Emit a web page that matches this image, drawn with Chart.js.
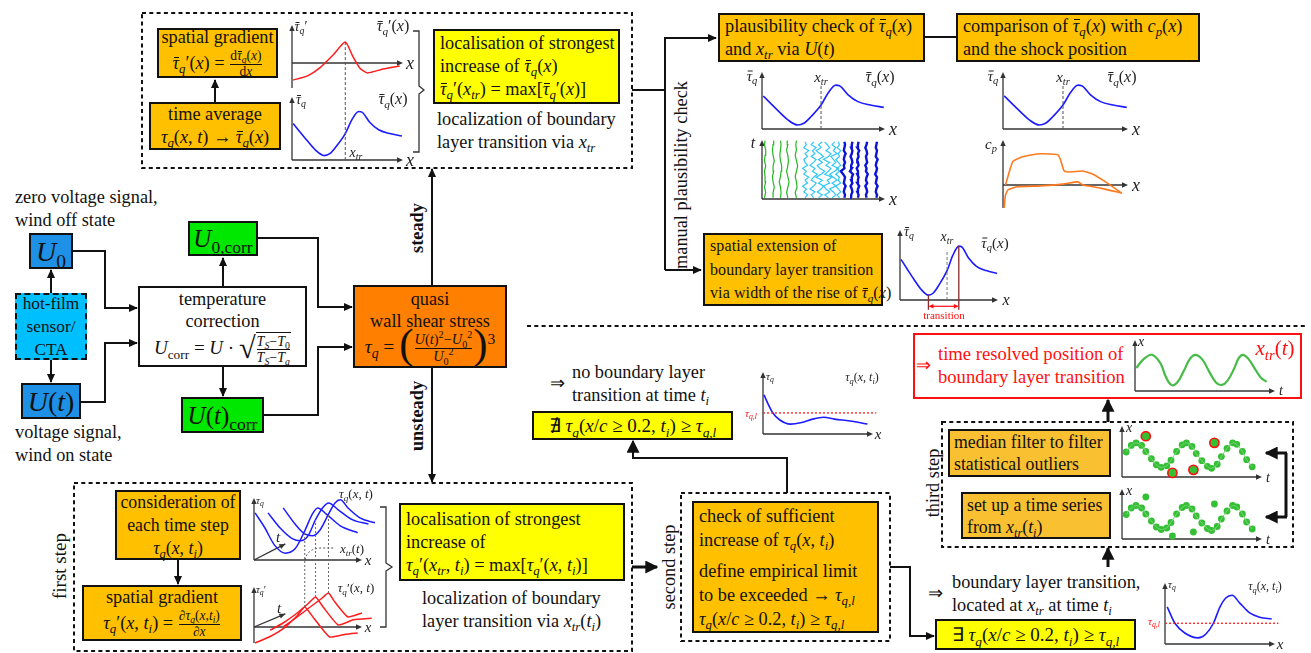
<!DOCTYPE html>
<html><head><meta charset="utf-8"><title>Wall shear stress evaluation</title>
<script src="https://cdn.jsdelivr.net/npm/chart.js@4.4.1/dist/chart.umd.min.js"></script>
<style>
html,body{margin:0;padding:0;background:#fff;}
#page{position:relative;width:1311px;height:653px;overflow:hidden;font-family:"Liberation Serif","Times New Roman",serif;font-size:18.3px;color:#111;}
.b{position:absolute;box-sizing:border-box;border:2px solid #111;display:flex;flex-direction:column;justify-content:center;line-height:23px;white-space:nowrap;}
.b.c{align-items:center;text-align:center;}
.b.l{align-items:flex-start;text-align:left;padding-left:5px;}
.t{position:absolute;white-space:nowrap;line-height:23px;}
i{font-style:italic;}
.u{font-style:normal;}
sub{font-size:70%;vertical-align:-0.35em;line-height:0;}
sup{font-size:70%;vertical-align:0.55em;line-height:0;}
.bar{position:relative;display:inline-block;line-height:1;}
.bar::before{content:'';position:absolute;left:20%;right:-6%;top:0.16em;border-top:1.2px solid currentColor;}
.frac{display:inline-flex;flex-direction:column;vertical-align:middle;text-align:center;font-size:0.74em;line-height:1.1;margin:0 1px;}
.frac>span+span{border-top:1px solid #111;}
.bp{font-size:2.2em;line-height:0;vertical-align:-0.12em;font-weight:300;}
.sq{font-size:1.6em;line-height:0;vertical-align:-0.12em;}
.rad{border-top:1px solid #111;display:inline-block;line-height:1;padding-top:1px;}
canvas{position:absolute;}
svg{position:absolute;left:0;top:0;}
.rot{position:absolute;transform:translate(-50%,-50%) rotate(-90deg);white-space:nowrap;}
.lab{position:absolute;white-space:nowrap;line-height:1;color:#222;transform:translate(-50%,-50%);}
</style></head>
<body><div id="page">
<svg width="1311" height="653">
<defs>
<marker id="ah" viewBox="0 0 10 10" refX="9" refY="5" markerWidth="9" markerHeight="9" markerUnits="userSpaceOnUse" orient="auto"><path d="M0,0.5 L10,5 L0,9.5 z" fill="#111"/></marker>
<marker id="ahB" viewBox="0 0 10 10" refX="9" refY="5" markerWidth="13" markerHeight="13" markerUnits="userSpaceOnUse" orient="auto"><path d="M0,0 L10,5 L0,10 z" fill="#111"/></marker>
</defs>
<g fill="none" stroke="#111" stroke-width="2" stroke-dasharray="4 3.3">
<rect x="142" y="13" width="490" height="155"/>
<rect x="74" y="483" width="558" height="168"/>
<rect x="681" y="493" width="209" height="148"/>
<rect x="942" y="422" width="351" height="125"/>
<line x1="527" y1="326" x2="1308" y2="326"/>
</g>
<g fill="none" stroke="#111" stroke-width="2">
<path d="M215,102 V80" marker-end="url(#ah)"/>
<path d="M632,90 H665"/>
<path d="M665,270 V38 H716" marker-end="url(#ah)"/>
<path d="M665,270 H701" marker-end="url(#ah)"/>
<path d="M925,37 H956"/>
<path d="M73,251 H105 V308 H137" marker-end="url(#ah)"/>
<path d="M81,402 H105 V343 H137" marker-end="url(#ah)"/>
<path d="M51,293 V270" marker-end="url(#ah)"/>
<path d="M51,360 V382" marker-end="url(#ah)"/>
<path d="M223,286 V258" marker-end="url(#ah)"/>
<path d="M223,367 V396" marker-end="url(#ah)"/>
<path d="M258,238 H318 V307 H352" marker-end="url(#ah)"/>
<path d="M264,415 H318 V347 H352" marker-end="url(#ah)"/>
<path d="M432,285 V169" marker-end="url(#ah)"/>
<path d="M432,368 V482" marker-end="url(#ah)"/>
<path d="M178,560 V584" marker-end="url(#ah)"/>
<path d="M632,567 H657" stroke-width="3" marker-end="url(#ahB)"/>
<path d="M787,493 V458 H633 V441" marker-end="url(#ahB)"/>
<path d="M890,567 H910 V636 H934" marker-end="url(#ah)"/>
<path d="M1108,567 V548" stroke-width="3" marker-end="url(#ahB)"/>
<path d="M1108,422 V400" stroke-width="3" marker-end="url(#ahB)"/>
<path d="M1286,453 V517" stroke-width="3"/>
<path d="M1287,453 H1266" stroke-width="3" marker-end="url(#ahB)"/>
<path d="M1287,517 H1266" stroke-width="3" marker-end="url(#ahB)"/>
</g>
<g fill="none" stroke="#333" stroke-width="1.3">
<path d="M413,31 H419 V86 L424,90 L419,94 V152 H413"/>
<path d="M380,507 H386 V563 L392,567 L386,571 V627 H380"/>
</g>
<path d="M305,560 Q307,549 320,548 H334" fill="none" stroke="#555" stroke-width="1" stroke-dasharray="2 2"/>
</svg>
</div>
<script>
// ---- curve values (x as fraction of the axis length, y as fraction of the axis height) ----
const xTr = 0.48;
const chordX   = [0.01,0.07,0.14,0.21,0.29,0.34,0.40,0.48,0.54,0.60,0.63,0.70,0.78,0.88,0.99];
const tauMean  = [0.58,0.45,0.30,0.16,0.07,0.10,0.22,0.42,0.64,0.77,0.76,0.60,0.48,0.42,0.38];
const gradX    = [0.01,0.14,0.25,0.37,0.48,0.55,0.61,0.68,0.82,0.97];
const gradTau  = [-0.45,-0.34,-0.13,0.21,0.55,0.16,-0.13,-0.26,-0.16,-0.08];

// hot-film traces in the t-x diagram: time samples and x position of every trace
const tShort = [0.02,0.11,0.2,0.29,0.38,0.47,0.56,0.65,0.74,0.83,0.92,0.99];
const tLong  = [0.02,0.07,0.12,0.17,0.22,0.27,0.32,0.37,0.42,0.47,0.52,0.57,0.62,0.67,0.72,0.77,0.82,0.87,0.92,0.97];
const laminarTraces = [
  [0.02,0.03,0.02,0.03,0.025,0.02,0.03,0.02,0.025,0.03,0.02,0.025],
  [0.09,0.09,0.10,0.09,0.085,0.095,0.09,0.10,0.09,0.085,0.09,0.095],
  [0.15,0.155,0.15,0.14,0.15,0.155,0.16,0.15,0.145,0.15,0.155,0.15],
  [0.21,0.20,0.21,0.22,0.21,0.20,0.21,0.215,0.21,0.20,0.21,0.205],
  [0.28,0.27,0.285,0.28,0.27,0.28,0.29,0.28,0.27,0.28,0.275,0.28]];
const transitionalTraces = [
  [0.35,0.37,0.34,0.36,0.33,0.37,0.35,0.38,0.34,0.36,0.33,0.37,0.35,0.34,0.37,0.35,0.38,0.34,0.36,0.35],
  [0.42,0.40,0.43,0.39,0.42,0.44,0.40,0.42,0.45,0.41,0.43,0.39,0.42,0.44,0.40,0.43,0.41,0.44,0.40,0.42],
  [0.46,0.49,0.45,0.48,0.50,0.46,0.49,0.44,0.48,0.51,0.47,0.45,0.49,0.46,0.50,0.47,0.44,0.48,0.46,0.49],
  [0.54,0.51,0.55,0.52,0.50,0.55,0.53,0.57,0.51,0.54,0.56,0.52,0.55,0.50,0.54,0.56,0.52,0.55,0.53,0.51],
  [0.57,0.60,0.58,0.55,0.60,0.57,0.61,0.58,0.55,0.59,0.62,0.57,0.60,0.58,0.56,0.61,0.58,0.60,0.57,0.59],
  [0.63,0.61,0.64,0.62,0.60,0.64,0.62,0.63,0.60,0.63,0.61,0.64,0.62,0.60,0.63,0.62,0.64,0.61,0.63,0.62]];
const turbulentTraces = [
  [0.67,0.675,0.665,0.67,0.68,0.665,0.67,0.675,0.66,0.64,0.67,0.665,0.675,0.665,0.67,0.68,0.665,0.67,0.675,0.67],
  [0.73,0.725,0.735,0.73,0.72,0.735,0.725,0.73,0.74,0.715,0.73,0.725,0.735,0.73,0.72,0.73,0.735,0.725,0.73,0.735],
  [0.78,0.785,0.775,0.78,0.79,0.775,0.78,0.785,0.775,0.78,0.77,0.785,0.78,0.775,0.785,0.78,0.79,0.775,0.78,0.785],
  [0.85,0.845,0.855,0.85,0.84,0.855,0.845,0.85,0.86,0.845,0.85,0.84,0.855,0.85,0.845,0.855,0.85,0.84,0.85,0.855],
  [0.93,0.935,0.925,0.93,0.94,0.925,0.93,0.935,0.92,0.93,0.935,0.925,0.93,0.94,0.925,0.93,0.935,0.925,0.93,0.935]];

// pressure coefficient, upper and lower side
const cpUpperX = [0.02,0.05,0.08,0.15,0.27,0.38,0.44,0.46,0.49,0.54,0.64,0.72,0.82,0.95];
const cpUpper  = [0,0.29,0.53,0.62,0.69,0.69,0.67,0.56,0.31,0.29,0.31,0.24,0.07,-0.18];
const cpLowerX = [0.01,0.02,0.04,0.11,0.30,0.48,0.60,0.64,0.78,0.95];
const cpLower  = [-0.51,-0.22,-0.11,-0.04,-0.02,0.02,0.07,0,-0.07,-0.18];

// instantaneous wall shear stress at one time step
const tauLimit = 0.34;
const noTrX = [0.01,0.05,0.09,0.15,0.25,0.34,0.45,0.55,0.65,0.79,0.95];
const noTrTau = [0.63,0.47,0.34,0.23,0.16,0.18,0.24,0.27,0.24,0.21,0.16];
const trX = [0.02,0.09,0.18,0.30,0.37,0.44,0.50,0.55,0.61,0.68,0.77,0.86,0.97];
const trTau = [0.61,0.34,0.18,0.10,0.16,0.34,0.61,0.75,0.80,0.67,0.51,0.44,0.41];

// transition position over time
const timeX = [0.01,0.06,0.12,0.18,0.22,0.26,0.30,0.35,0.39,0.43,0.48,0.53,0.58,0.62,0.66,0.71,0.74,0.77,0.81,0.86,0.90,0.94];
const xTrOfT = [0.45,0.62,0.71,0.55,0.28,0.12,0.16,0.40,0.62,0.71,0.62,0.38,0.16,0.12,0.20,0.45,0.64,0.71,0.63,0.42,0.26,0.18];
const sampleT = [0.03,0.066,0.10,0.14,0.17,0.21,0.245,0.28,0.32,0.35,0.39,0.43,0.46,0.50,0.53,0.57,0.61,0.64,0.68,0.71,0.75,0.79,0.82,0.86,0.89,0.93];
const sampleX = [0.49,0.62,0.67,0.62,0.50,0.36,0.24,0.19,0.22,0.33,0.50,0.63,0.67,0.60,0.46,0.32,0.21,0.17,0.25,0.40,0.56,0.67,0.64,0.50,0.34,0.20];
const outlierT = [0.17,0.36,0.51,0.66];
const outlierX = [0.80,0.08,0.14,0.67];
const outlierXRaw = [0.84,0.06,0.14,0.70];

// tau_q(x,t) for three time steps and their spatial gradients
const stepX = [
  [0.01,0.10,0.19,0.29,0.38,0.47,0.54,0.59,0.67,0.80,0.96],
  [0.13,0.24,0.35,0.43,0.50,0.57,0.64,0.69,0.78,0.91,1.06],
  [0.27,0.38,0.47,0.54,0.61,0.69,0.75,0.80,0.87,0.98,1.12]];
const stepTau = [
  [0.76,0.52,0.24,0.11,0.18,0.47,0.74,0.84,0.74,0.55,0.44],
  [0.76,0.52,0.35,0.31,0.39,0.65,0.85,0.92,0.81,0.65,0.58],
  [0.84,0.58,0.42,0.39,0.48,0.74,0.92,0.97,0.84,0.68,0.60]];
const stepGradX = [
  [0.01,0.14,0.28,0.40,0.47,0.56,0.70,0.85,0.96],
  [0.15,0.27,0.40,0.50,0.57,0.64,0.78,0.92,1.09],
  [0.27,0.40,0.52,0.62,0.69,0.75,0.87,1.00,1.09]];
const stepGrad = [
  [-0.40,-0.25,-0.02,0.28,0.50,0.20,-0.25,-0.18,-0.15],
  [-0.08,0.10,0.35,0.58,0.75,0.50,0.05,0.18,0.22],
  [0.00,0.25,0.50,0.70,0.85,0.62,0.25,0.35,0.38]];
const stepXtr = [0.47,0.57,0.69];
const stepXtrTop = [2.40,2.68,2.83];

// ---------------------------------------------------------------
const P = document.getElementById('page');
function box(x1,y1,x2,y2,bg,html,cls,extra){
  const d=document.createElement('div');
  d.className='b '+(cls||'c');
  Object.assign(d.style,{left:x1+'px',top:y1+'px',width:(x2-x1)+'px',height:(y2-y1)+'px',background:bg},extra||{});
  d.innerHTML='<div>'+html+'</div>';
  P.appendChild(d); return d;
}
function txt(x,y,html,extra){
  const d=document.createElement('div'); d.className='t';
  Object.assign(d.style,{left:x+'px',top:y+'px'},extra||{});
  d.innerHTML=html; P.appendChild(d); return d;
}
function rot(cx,cy,html,extra){
  const d=document.createElement('div'); d.className='rot';
  Object.assign(d.style,{left:cx+'px',top:cy+'px'},extra||{});
  d.innerHTML=html; P.appendChild(d); return d;
}
function lab(cx,cy,html,size,color){
  const d=document.createElement('div'); d.className='lab';
  Object.assign(d.style,{left:cx+'px',top:cy+'px',fontSize:size+'px'});
  if(color) d.style.color=color;
  d.innerHTML=html; P.appendChild(d); return d;
}
const TB='<i><span class="bar">τ</span><sub>q</sub></i>';
const T='<i>τ<sub>q</sub></i>';

// ---- process boxes ----
box(157,28,278,78,'#FFC000','spatial gradient<br>'+TB+'′(<i>x</i>) = <span class="frac"><span>d'+TB+'(<i>x</i>)</span><span>d<i>x</i></span></span>');
box(149,102,281,150,'#FFC000','time average<br>'+T+'(<i>x</i>, <i>t</i>) → '+TB+'(<i>x</i>)');
box(433,29,620,104,'#FFFF00','localisation of strongest<br>increase of '+TB+'(<i>x</i>)<br>'+TB+'′(<i>x<sub>tr</sub></i>) = max['+TB+'′(<i>x</i>)]','l');
txt(437,108,'localization of boundary<br>layer transition via <i>x<sub>tr</sub></i>');
box(718,13,925,62,'#FFC000','plausibility check of '+TB+'(<i>x</i>)<br>and <i>x<sub>tr</sub></i> via <i>U</i>(<i>t</i>)','l');
box(956,13,1200,62,'#FFC000','comparison of '+TB+'(<i>x</i>) with <i>c<sub>p</sub></i>(<i>x</i>)<br>and the shock position','l');
box(703,233,883,306,'#FFC000','spatial extension of<br>boundary layer transition<br>via width of the rise of '+TB+'(<i>x</i>)','l',{fontSize:'16px',lineHeight:'23.5px',letterSpacing:'0.1px'});

txt(15,186,'zero voltage signal,<br>wind off state');
txt(15,421,'voltage signal,<br>wind on state');
box(29,233,73,269,'#1E90E6','<i>U</i><sub class="u">0</sub>','c',{fontSize:'28px'});
box(15,293,87,360,'#00BFFF','hot-film<br>sensor/<br>CTA','c',{borderStyle:'dashed',fontSize:'17.3px'});
box(21,383,81,419,'#1E90E6','<i>U</i>(<i>t</i>)','c',{fontSize:'28px'});
box(138,286,307,367,'#FFFFFF','temperature<br>correction<br><span style="font-size:19px"><i>U</i><sub class="u">corr</sub> = <i>U</i> · <span class="sq">√</span><span class="rad"><span class="frac"><span><i>T<sub>S</sub></i>−<i>T</i><sub class="u">0</sub></span><span><i>T<sub>S</sub></i>−<i>T<sub>a</sub></i></span></span></span></span>','c',{lineHeight:'22px'});
box(188,221,258,256,'#00E800','<i>U</i><sub class="u">0,corr</sub>','c',{fontSize:'25px'});
box(181,397,264,433,'#00E800','<i>U</i>(<i>t</i>)<sub class="u">corr</sub>','c',{fontSize:'25px'});
box(353,285,507,368,'#FF7F00','quasi<br>wall shear stress<br><span style="font-size:19.5px">'+T+' = <span class="bp">(</span><span class="frac"><span><i>U</i>(<i>t</i>)<sup>2</sup>−<i>U</i><sub class="u">0</sub><sup>2</sup></span><span><i>U</i><sub class="u">0</sub><sup>2</sup></span></span><span class="bp">)</span><sup style="font-size:80%">3</sup></span>','c',{lineHeight:'22px'});

box(115,490,241,560,'#FFC000','consideration of<br>each time step<br>'+T+'(<i>x</i>, <i>t<sub>i</sub></i>)','c',{fontSize:'17.8px'});
box(82,585,242,641,'#FFC000','spatial gradient<br>'+T+'′(<i>x</i>, <i>t<sub>i</sub></i>) = <span class="frac"><span>∂'+T+'(<i>x</i>,<i>t<sub>i</sub></i>)</span><span>∂<i>x</i></span></span>');
box(399,503,625,581,'#FFFF00','localisation of strongest<br>increase of<br>'+T+'′(<i>x<sub>tr</sub></i>, <i>t<sub>i</sub></i>) = max['+T+'′(<i>x</i>, <i>t<sub>i</sub></i>)]','l');
txt(422,587,'localization of boundary<br>layer transition via <i>x<sub>tr</sub></i>(<i>t<sub>i</sub></i>)');

box(692,501,879,633,'#FFC000','check of sufficient<br>increase of '+T+'(<i>x</i>, <i>t<sub>i</sub></i>)<div style="height:7px"></div>define empirical limit<br>to be exceeded → <i>τ<sub>q,l</sub></i><br>'+T+'(<i>x</i>/<i>c</i> ≥ 0.2, <i>t<sub>i</sub></i>) ≥ <i>τ<sub>q,l</sub></i>','l',{lineHeight:'24px'});
box(532,411,733,440,'#FFFF00','∄ '+T+'(<i>x</i>/<i>c</i> ≥ 0.2, <i>t<sub>i</sub></i>) ≥ <i>τ<sub>q,l</sub></i>','c',{fontSize:'19px'});
box(935,619,1136,650,'#FFFF00','∃ '+T+'(<i>x</i>/<i>c</i> ≥ 0.2, <i>t<sub>i</sub></i>) ≥ <i>τ<sub>q,l</sub></i>','c',{fontSize:'19px'});
txt(550,372,'⇒');
txt(572,361,'no boundary layer<br>transition at time <i>t<sub>i</sub></i>');
txt(928,582,'⇒');
txt(952,571,'boundary layer transition,<br>located at <i>x<sub>tr</sub></i> at time <i>t<sub>i</sub></i>');

box(913,333,1302,399,'#FFFFFF','','c',{borderColor:'#FF1010'});
txt(916,354,'⇒',{color:'#FF1010'});
txt(938,342,'time resolved position of<br>boundary layer transition',{color:'#FF1010',fontSize:'18.6px'});
box(948,429,1111,477,'#F9C032','median filter to filter<br>statistical outliers','l',{lineHeight:'22px',paddingLeft:'4px',fontSize:'17.8px'});
box(961,492,1111,539,'#F9C032','set up a time series<br>from <i>x<sub>tr</sub></i>(<i>t<sub>i</sub></i>)','l',{lineHeight:'22px',paddingLeft:'4px',fontSize:'17.8px'});

rot(681,175,'manual plausibility check');
rot(417,228,'steady',{fontWeight:'bold'});
rot(417,416,'unsteady',{fontWeight:'bold'});
rot(60,566,'first step',{fontSize:'19px'});
rot(669,567,'second step');
rot(933,483,'third step');

// ---- small diagrams drawn with Chart.js ----
const axisPlugin = {
  id:'axes',
  beforeDatasetsDraw(chart,args,o){
    const ctx=chart.ctx, xs=chart.scales.x, ys=chart.scales.y;
    const X=v=>xs.getPixelForValue(v), Y=v=>ys.getPixelForValue(v);
    const head=(x,y,a,s,c)=>{ctx.save();ctx.fillStyle=c||'#333';ctx.translate(x,y);ctx.rotate(a);ctx.beginPath();ctx.moveTo(0,0);ctx.lineTo(-s,-s*0.45);ctx.lineTo(-s,s*0.45);ctx.closePath();ctx.fill();ctx.restore();};
    const seg=(x1,y1,x2,y2)=>{ctx.beginPath();ctx.moveTo(x1,y1);ctx.lineTo(x2,y2);ctx.stroke();};
    ctx.save(); ctx.strokeStyle='#333'; ctx.lineWidth=1.3;
    seg(X(0),Y(o.yFrom),X(0),Y(1)+4); head(X(0),Y(1),-Math.PI/2,6);
    seg(X(0),Y(0),X(1)-4,Y(0)); head(X(1),Y(0),0,6);
    if(o.t){ const ex=X(o.t[0]), ey=Y(o.t[1]); seg(X(0),Y(0),ex,ey); head(ex,ey,Math.atan2(ey-Y(0),ex-X(0)),6); }
    if(o.span){ const s=o.span; ctx.strokeStyle='#FF1010'; ctx.lineWidth=1.2;
      seg(X(s.x1)+3,Y(s.y),X(s.x2)-3,Y(s.y)); head(X(s.x2),Y(s.y),0,5,'#FF1010'); head(X(s.x1),Y(s.y),Math.PI,5,'#FF1010'); }
    ctx.restore();
  }
};
function pts(xs,ys){ return xs.map((x,i)=>({x:x,y:ys[i]})); }
function curve(xs,ys,color,w,extra){
  return Object.assign({data:pts(xs,ys),showLine:true,pointRadius:0,borderColor:color,borderWidth:w,cubicInterpolationMode:'monotone',clip:false},extra||{});
}
function straight(xs,ys,color,w,dash){
  return {data:pts(xs,ys),showLine:true,pointRadius:0,borderColor:color,borderWidth:w,borderDash:dash||[],tension:0,clip:false};
}
function plot(s){
  const pad=Object.assign({t:14,r:14,b:14,l:14},s.pad||{});
  const oy=(s.oy!==undefined)?s.oy:s.bottom;
  const k=oy-s.top;
  const ymin=-(s.bottom-oy)/k;
  const c=document.createElement('canvas');
  const W=s.len+pad.l+pad.r, H=(s.bottom-s.top)+pad.t+pad.b;
  c.width=W; c.height=H;
  c.style.left=(s.ox-pad.l)+'px'; c.style.top=(s.top-pad.t)+'px';
  c.style.width=W+'px'; c.style.height=H+'px';
  P.appendChild(c);
  new Chart(c,{type:'scatter',data:{datasets:s.sets},
    options:{animation:false,responsive:false,events:[],
      layout:{padding:{left:pad.l,right:pad.r,top:pad.t,bottom:pad.b}},
      scales:{x:{display:false,min:0,max:1},y:{display:false,min:ymin,max:1}},
      plugins:{legend:{display:false},tooltip:{enabled:false},axes:{yFrom:ymin,t:s.t,span:s.span}}},
    plugins:[axisPlugin]});
}
const BLUE='#1c1cff', RED='#ff1c1c', GREEN='#34c034', DASH='#555';

// time-averaged gradient and mean wall shear stress
plot({ox:292,top:25,len:111,oy:63,bottom:88,pad:{b:16},sets:[
  straight([xTr,xTr],[0.55,-0.89],DASH,1,[3,2]),
  curve(gradX,gradTau,RED,1.5,{cubicInterpolationMode:'default',tension:0.2})]});
plot({ox:292,top:97,len:111,bottom:160,sets:[
  straight([xTr,xTr],[0,1],DASH,1,[3,2]),
  curve(chordX,tauMean,BLUE,1.6)]});
// plausibility check
plot({ox:762,top:72,len:123,bottom:129,sets:[
  straight([xTr,xTr],[0,0.79],DASH,1,[3,2]),
  curve(chordX,tauMean,BLUE,1.6)]});
const traceSets=[];
laminarTraces.forEach(a=>traceSets.push(straight(a,tShort,'#22b822',1.2)));
transitionalTraces.forEach(a=>traceSets.push(straight(a,tLong,'#30c8f8',1.2)));
turbulentTraces.forEach(a=>traceSets.push(straight(a,tLong,'#0c14d8',2.4)));
plot({ox:762,top:140,len:123,bottom:199,sets:traceSets});
// comparison with pressure distribution
plot({ox:1003,top:72,len:125,bottom:129,sets:[
  straight([xTr,xTr],[0,0.79],DASH,1,[3,2]),
  curve(chordX,tauMean,BLUE,1.6)]});
plot({ox:1003,top:140,len:125,oy:185,bottom:208,sets:[
  curve(cpUpperX,cpUpper,'#ff7a1e',1.6,{cubicInterpolationMode:'default',tension:0.15}),
  curve(cpLowerX,cpLower,'#ff7a1e',1.6,{cubicInterpolationMode:'default',tension:0.15})]});
// spatial extension of the transition
plot({ox:900,top:230,len:98,bottom:300,pad:{b:18},span:{x1:0.29,x2:0.60,y:-0.09},sets:[
  straight([xTr,xTr],[0,0.71],'#777',1,[3,2]),
  straight([0.29,0.29],[-0.14,0.07],'#8c2a2a',1.3),
  straight([0.60,0.60],[-0.14,0.77],'#8c2a2a',1.3),
  curve(chordX,tauMean,BLUE,1.6)]});
// limit check at one time step
plot({ox:763,top:372,len:110,bottom:434,sets:[
  straight([0,1.03],[tauLimit,tauLimit],RED,1.3,[2,2]),
  curve(noTrX,noTrTau,BLUE,1.6)]});
plot({ox:1165,top:583,len:110,bottom:644,sets:[
  straight([0,1.03],[tauLimit,tauLimit],RED,1.3,[2,2]),
  curve(trX,trTau,BLUE,1.6)]});
// time series of the transition position
plot({ox:1135,top:340,len:140,bottom:391,sets:[
  curve(timeX,xTrOfT,'#46bc46',2.2,{cubicInterpolationMode:'default',tension:0.4})]});
function samples(rawOutliers){
  return [
    curve(sampleT,sampleX,'#7bd27b',1,{cubicInterpolationMode:'default',tension:0.3}),
    {data:pts(sampleT,sampleX),showLine:false,pointRadius:3.4,pointBackgroundColor:GREEN,pointBorderWidth:0,clip:false},
    {data:pts(outlierT,rawOutliers?outlierXRaw:outlierX),showLine:false,pointRadius:rawOutliers?3.4:4.6,pointBackgroundColor:GREEN,
     pointBorderColor:rawOutliers?GREEN:'#ff1010',pointBorderWidth:rawOutliers?0:1.6,clip:false}];
}
plot({ox:1122,top:426,len:140,bottom:477,sets:samples(false)});
plot({ox:1122,top:489,len:140,bottom:539,sets:samples(true)});
// first step: three time steps and their gradients
plot({ox:254,top:498,len:108,bottom:560,pad:{r:22},t:[0.29,0.26],sets:stepX.map((a,i)=>curve(a,stepTau[i],BLUE,1.5))});
plot({ox:254,top:587,len:108,oy:627,bottom:643,pad:{t:92,r:22},t:[0.29,0.33],sets:[
  ...stepXtr.map((x,i)=>straight([x,x],[stepGrad[i][4],stepXtrTop[i]],'#666',1,[2,2])),
  ...stepGradX.map((a,i)=>curve(a,stepGrad[i],RED,1.5,{cubicInterpolationMode:'default',tension:0.15}))]});

// ---- axis and curve labels ----
lab(301,27,TB+'′',14); lab(393,26,TB+'′(<i>x</i>)',16); lab(410,63,'<i>x</i>',18);
lab(301,100,TB,14); lab(393,99,TB+'(<i>x</i>)',16); lab(356,153,'<i>x<sub>tr</sub></i>',14); lab(410,160,'<i>x</i>',18);
lab(752,76,TB,15); lab(821,77,'<i>x<sub>tr</sub></i>',15); lab(880,77,TB+'(<i>x</i>)',16); lab(893,129,'<i>x</i>',18);
lab(753,143,'<i>t</i>',16); lab(893,199,'<i>x</i>',18);
lab(993,76,TB,15); lab(1063,77,'<i>x<sub>tr</sub></i>',15); lab(1122,77,TB+'(<i>x</i>)',16); lab(1136,129,'<i>x</i>',18);
lab(991,144,'<i>c<sub>p</sub></i>',15); lab(1136,185,'<i>x</i>',18);
lab(909,232,TB,14); lab(947,237,'<i>x<sub>tr</sub></i>',14); lab(995,243,TB+'(<i>x</i>)',15); lab(1006,300,'<i>x</i>',16);
lab(944,315,'transition',11,'#ff1010');
lab(770,376,T,11); lab(862,377,T+'(<i>x</i>, <i>t<sub>i</sub></i>)',12); lab(751,413,'<i>τ<sub>q,l</sub></i>',11,'#ff1010'); lab(878,434,'<i>x</i>',15);
lab(1172,584,T,11); lab(1265,586,T+'(<i>x</i>, <i>t<sub>i</sub></i>)',12); lab(1154,621,'<i>τ<sub>q,l</sub></i>',11,'#ff1010'); lab(1280,644,'<i>x</i>',15);
lab(1141,342,'<i>x</i>',14); lab(1281,391,'<i>t</i>',14); lab(1275,348,'<i>x<sub>tr</sub></i>(<i>t</i>)',21,'#ff1010');
lab(1129,428,'<i>x</i>',14); lab(1268,478,'<i>t</i>',14);
lab(1129,491,'<i>x</i>',14); lab(1268,540,'<i>t</i>',14);
lab(260,500,T,11); lab(356,493,T+'(<i>x</i>, <i>t</i>)',13); lab(368,560,'<i>x</i>',15); lab(278,537,'<i>t</i>',15); lab(352,548,'<i>x<sub>tr</sub></i>(<i>t</i>)',13);
lab(261,589,T+'′',11); lab(356,587,T+'′(<i>x</i>, <i>t</i>)',13); lab(368,627,'<i>x</i>',15); lab(279,608,'<i>t</i>',15);
</script>
</body></html>
